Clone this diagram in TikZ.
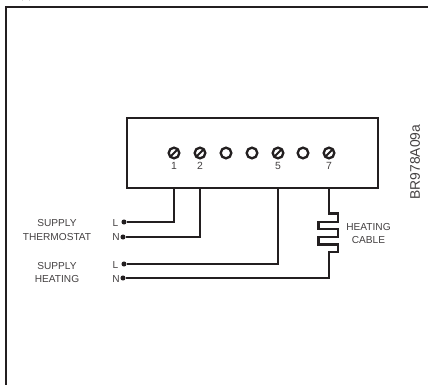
\documentclass[tikz,border=0pt]{standalone}
\usepackage{fontspec}
\setmainfont{Liberation Sans}
\definecolor{ink}{HTML}{231F20}
\tikzset{
  x=0.75pt,y=-0.75pt,
  wire/.style={draw=ink,line width=1.75pt,line join=miter},
  frameline/.style={draw=ink,line width=1.2pt},
  term/.style={circle,draw=ink,line width=1.75pt,fill=white,minimum size=8pt,inner sep=0pt},
  dotn/.style={circle,fill=ink,minimum size=3.8pt,inner sep=0pt},
  lab/.style={font=\fontsize{7.6}{8}\selectfont,text=ink!85,inner sep=0pt,align=center},
  bignum/.style={font=\fontsize{7.8}{9}\selectfont,text=ink!85,inner sep=0pt}
}
\begin{document}
\begin{tikzpicture}
\useasboundingbox (0,0) rectangle (428,385);
\fill[white] (0,0) rectangle (428,385);
% frame
\coordinate (fa) at (6,385);
\coordinate (fb) at (6,7);
\coordinate (fc) at (428,7);
\draw[frameline] (fa) -- (fb) -- (fc);
\draw[draw=ink,line width=0.7pt] (22,0) arc[start angle=180,end angle=360,x radius=4,y radius=1.6];
% box
\node[draw=ink,line width=1.6pt,minimum width=188pt,minimum height=52.5pt,inner sep=0pt,anchor=north west] (box) at (126,117) {};
% terminals
\foreach \n/\x in {1/174,2/200,3/226,4/252,5/278,6/303,7/329}{
  \node[term] (t\n) at (\x,153) {};
}
\foreach \n in {1,2,5,7}{
  \draw[draw=ink,line width=1.4pt] ([shift={(-3.4,3.4)}]t\n.center) -- ([shift={(3.4,-3.4)}]t\n.center);
  \node[bignum] at ([yshift=-12.8*0.75pt]t\n.center) {\n};
}
% dots
\node[dotn] (l1) at (124,222) {};
\node[dotn] (n1) at (123,237) {};
\node[dotn] (l2) at (124,264) {};
\node[dotn] (n2) at (123,278) {};
% wires
\coordinate (b1) at (174,187);
\coordinate (b2) at (200,187);
\coordinate (b5) at (278,187);
\coordinate (b7) at (329,187);
\draw[wire] (b1) |- (l1);
\draw[wire] (b2) |- (n1);
\draw[wire] (b5) |- (l2);
\draw[wire] (b7) -- (329,213.5) -- (338,213.5) -- (338,221.7) -- (318.5,221.7) -- (318.5,229) -- (338,229) -- (338,236.7) -- (318.5,236.7) -- (318.5,244.5) -- (338,244.5) -- (338,252.3) -- (329,252.3) -- (329,278) -- (n2);
% labels
\node[lab] at (57,223.5) {SUPPLY};
\node[lab] at (57,237) {THERMOSTAT};
\node[lab] at (57,266) {SUPPLY};
\node[lab] at (57,279) {HEATING};
\node[lab] at (115.5,223) {L};
\node[lab] at (116,237.5) {N};
\node[lab] at (115.5,265) {L};
\node[lab] at (116,279) {N};
\node[lab] at (368.5,227) {HEATING};
\node[lab] at (368.5,240) {CABLE};
\node[font=\fontsize{10.4}{11}\selectfont,text=ink!85,inner sep=0pt,rotate=90] at (415,162) {BR978A09a};
\end{tikzpicture}
\end{document}
